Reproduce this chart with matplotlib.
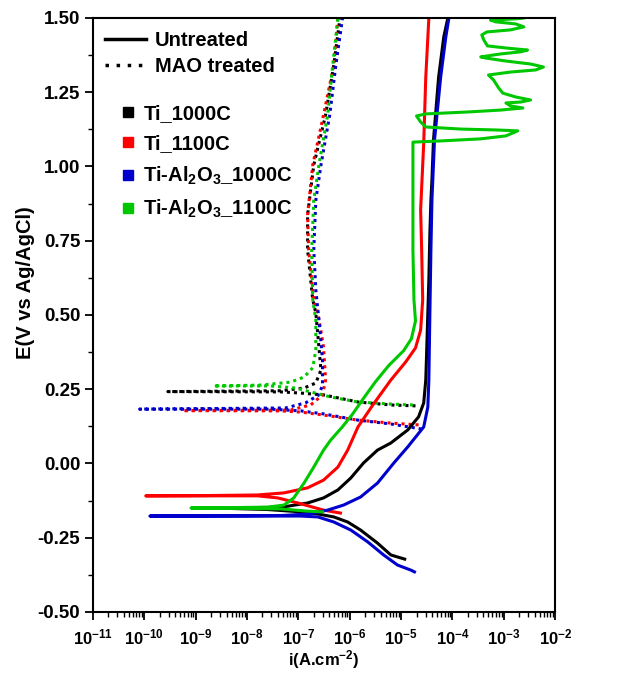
# Import libraries
import numpy as np
import matplotlib
matplotlib.use("Agg")
import matplotlib.pyplot as plt
from matplotlib.lines import Line2D
from matplotlib.ticker import LogLocator, MultipleLocator, FuncFormatter

# Fonts: bold Arial-like text everywhere
plt.rcParams["font.family"] = ["Liberation Sans", "DejaVu Sans"]
plt.rcParams["font.weight"] = "bold"
plt.rcParams["mathtext.fontset"] = "custom"
plt.rcParams["mathtext.rm"] = "Liberation Sans:bold"
plt.rcParams["mathtext.bf"] = "Liberation Sans:bold"
plt.rcParams["mathtext.default"] = "bf"

# Polarization data: log10 of current density, and potential (V)
# Each curve runs from the cathodic end, through the corrosion potential, up the anodic branch

# Untreated Ti_1000C
ti1000_logi = [-4.93, -5.20, -5.46, -5.79, -6.04, -6.31, -6.62, -6.95, -7.60, -8.40, -9.05,
               -8.40, -7.60, -7.28, -6.82, -6.51, -6.23, -5.98, -5.73, -5.46, -5.20, -4.87,
               -4.66, -4.56, -4.52, -4.50, -4.48, -4.46, -4.44, -4.42, -4.40, -4.37, -4.27,
               -4.17, -4.09]
ti1000_E = [-0.322, -0.308, -0.268, -0.224, -0.197, -0.180, -0.170, -0.163, -0.155, -0.151, -0.150,
            -0.149, -0.148, -0.146, -0.133, -0.116, -0.089, -0.049, 0.002, 0.045, 0.069, 0.113,
            0.157, 0.204, 0.281, 0.392, 0.507, 0.618, 0.776, 0.887, 0.955, 1.089, 1.301,
            1.436, 1.500]

# Untreated Ti_1100C
ti1100_logi = [-6.18, -6.51, -7.01, -7.40, -7.79, -8.80, -9.97,
               -8.80, -7.80, -7.28, -6.82, -6.51, -6.23, -6.04, -5.84, -5.55, -5.20, -4.91,
               -4.72, -4.62, -4.58, -4.60, -4.62, -4.56, -4.52, -4.46]
ti1100_E = [-0.167, -0.157, -0.133, -0.116, -0.109, -0.109, -0.109,
            -0.108, -0.106, -0.099, -0.082, -0.056, -0.012, 0.045, 0.123, 0.197, 0.281, 0.342,
            0.389, 0.449, 0.551, 0.719, 0.854, 1.079, 1.301, 1.500]

# Untreated Ti-Al2O3_1000C
tial1000_logi = [-4.74, -4.81, -5.07, -5.34, -5.65, -5.98, -6.31, -6.62, -6.95, -8.00, -9.89,
                 -8.00, -7.30, -6.80, -6.43, -6.12, -5.79, -5.46, -5.14, -4.87, -4.81, -4.56,
                 -4.48, -4.46, -4.44, -4.42, -4.40, -4.35, -4.23, -4.13, -4.07]
tial1000_E = [-0.365, -0.359, -0.342, -0.308, -0.264, -0.224, -0.197, -0.180, -0.177, -0.177, -0.177,
              -0.176, -0.175, -0.170, -0.157, -0.140, -0.113, -0.066, 0.002, 0.056, 0.069, 0.123,
              0.190, 0.281, 0.507, 0.719, 0.887, 1.089, 1.301, 1.436, 1.500]

# Untreated Ti-Al2O3_1100C (with the unstable passive region at the top)
tial1100_logi = [-6.53, -6.86, -7.34, -8.20, -9.09,
                 -8.50, -7.60, -7.28, -7.09, -6.89, -6.70, -6.51, -6.37, -6.15, -5.95, -5.75,
                 -5.50, -5.24, -4.95, -4.80, -4.72, -4.75, -4.77, -4.77,
                 -4.23, -3.45, -2.96, -2.73, -3.16, -3.84, -4.52, -4.62, -4.70, -4.52, -3.65,
                 -3.06, -2.63, -2.87, -2.96, -2.67, -2.48, -2.77, -3.02, -3.10, -3.20, -3.30,
                 -2.87, -2.38, -2.23, -2.48, -2.96, -3.35, -3.45, -3.06, -2.67, -2.54, -2.96,
                 -3.32, -3.39, -3.43, -3.33, -2.87, -2.61, -2.77, -3.16, -3.26, -2.77, -2.61]
tial1100_E = [-0.163, -0.160, -0.153, -0.151, -0.150,
              -0.149, -0.147, -0.140, -0.116, -0.066, -0.012, 0.045, 0.079, 0.122, 0.165, 0.215,
              0.275, 0.330, 0.380, 0.420, 0.480, 0.551, 0.719, 1.082,
              1.086, 1.093, 1.103, 1.120, 1.123, 1.126, 1.133, 1.150, 1.170, 1.177, 1.184,
              1.190, 1.197, 1.204, 1.214, 1.217, 1.224, 1.234, 1.247, 1.264, 1.291, 1.308,
              1.318, 1.325, 1.335, 1.345, 1.355, 1.365, 1.369, 1.379, 1.386, 1.392, 1.399,
              1.406, 1.426, 1.443, 1.453, 1.460, 1.470, 1.480, 1.487, 1.493, 1.497, 1.500]

# MAO treated Ti_1000C
mao_ti1000_logi = [-4.72, -5.20, -5.84, -6.51, -6.95, -7.34, -9.54,
                   -7.34, -6.89, -6.66, -6.56, -6.60, -6.66, -6.72, -6.82, -6.82, -6.70, -6.47,
                   -6.31, -6.19]
mao_ti1000_E = [0.194, 0.197, 0.207, 0.231, 0.237, 0.241, 0.242,
                0.245, 0.254, 0.271, 0.315, 0.392, 0.507, 0.551, 0.719, 0.837, 1.005, 1.173,
                1.342, 1.500]

# MAO treated Ti_1100C
mao_ti1100_logi = [-4.66, -5.20, -5.84, -6.51, -6.95, -7.34, -9.25,
                   -7.15, -6.76, -6.53, -6.47, -6.51, -6.62, -6.70, -6.80, -6.82, -6.72, -6.51,
                   -6.31, -6.23]
mao_ti1100_E = [0.130, 0.136, 0.146, 0.163, 0.173, 0.177, 0.178,
                0.180, 0.197, 0.231, 0.281, 0.392, 0.507, 0.551, 0.719, 0.837, 1.005, 1.173,
                1.342, 1.500]

# MAO treated Ti-Al2O3_1000C
mao_tial1000_logi = [-4.60, -5.20, -5.84, -6.51, -6.95, -7.54, -10.09,
                     -7.25, -6.86, -6.60, -6.53, -6.53, -6.58, -6.66, -6.70, -6.66, -6.56, -6.39,
                     -6.27, -6.14]
mao_tial1000_E = [0.116, 0.133, 0.146, 0.167, 0.177, 0.183, 0.183,
                  0.187, 0.204, 0.231, 0.264, 0.348, 0.449, 0.584, 0.719, 0.887, 1.005, 1.173,
                  1.342, 1.500]

# MAO treated Ti-Al2O3_1100C
mao_tial1100_logi = [-4.77, -5.20, -5.84, -6.37, -6.76, -7.05, -7.54, -8.65,
                     -7.73, -7.15, -6.89, -6.72, -6.66, -6.66, -6.72, -6.74, -6.70, -6.60, -6.43,
                     -6.33, -6.23]
mao_tial1100_E = [0.197, 0.200, 0.207, 0.224, 0.241, 0.254, 0.261, 0.261,
                  0.264, 0.274, 0.291, 0.322, 0.382, 0.483, 0.551, 0.719, 0.887, 1.005, 1.173,
                  1.342, 1.500]

# Sample names and colours
sample_names = ["Ti_1000C", "Ti_1100C", "Ti-Al$_2$O$_3$_1000C", "Ti-Al$_2$O$_3$_1100C"]
sample_colors = ["#000000", "#FF0000", "#0000CD", "#00C800"]

untreated = [(ti1000_logi, ti1000_E), (ti1100_logi, ti1100_E),
             (tial1000_logi, tial1000_E), (tial1100_logi, tial1100_E)]
treated = [(mao_ti1000_logi, mao_ti1000_E), (mao_ti1100_logi, mao_ti1100_E),
           (mao_tial1000_logi, mao_tial1000_E), (mao_tial1100_logi, mao_tial1100_E)]

dotted = (0, (1, 1.3))

# Create the figure
fig = plt.figure(figsize=(6.19, 6.76), dpi=100)
ax = fig.add_axes([0.150, 0.0947, 0.747, 0.8787])

# Plot the MAO treated curves (dotted) and untreated curves (solid)
for (logi, E), color in zip(treated, sample_colors):
    ax.plot(10 ** np.array(logi), E, color=color, lw=2.2, ls=dotted)
for (logi, E), color in zip(untreated, sample_colors):
    ax.plot(10 ** np.array(logi), E, color=color, lw=2.2, solid_joinstyle="round")

# Axes scales and limits
ax.set_xscale("log")
ax.set_xlim(1e-11, 1e-2)
ax.set_ylim(-0.5, 1.5)

# Ticks
ax.xaxis.set_major_locator(LogLocator(base=10, numticks=20))
ax.xaxis.set_minor_locator(LogLocator(base=10, subs=np.arange(2, 10), numticks=20))
ax.xaxis.set_major_formatter(FuncFormatter(lambda v, p: "$10^{%d}$" % round(np.log10(v))))
ax.yaxis.set_major_locator(MultipleLocator(0.25))
ax.yaxis.set_minor_locator(MultipleLocator(0.125))
ax.yaxis.set_major_formatter(FuncFormatter(lambda v, p: "%.2f" % v))
ax.tick_params(which="major", direction="out", length=6, width=1.3)
ax.tick_params(which="minor", direction="out", length=3.5, width=1.0)
ax.tick_params(axis="x", which="major", labelsize=12, pad=5)
ax.tick_params(axis="y", which="major", labelsize=13.5, pad=3)
for spine in ax.spines.values():
    spine.set_linewidth(1.5)

# Axis labels
ax.set_xlabel("i(A.cm$^{-2}$)", fontsize=12, fontweight="bold")
ax.xaxis.set_label_coords(0.5, -0.06)
ax.set_ylabel("E(V vs Ag/AgCl)", fontsize=14.5, fontweight="bold")
ax.yaxis.set_label_coords(-0.125, 0.555)

# Legend for line styles
style_handles = [Line2D([], [], color="k", lw=2.5),
                 Line2D([], [], color="k", lw=2.5, ls=(0, (1, 2.2)))]
leg1 = ax.legend(style_handles, ["Untreated", "MAO treated"], loc="upper left",
                 bbox_to_anchor=(-0.012, 1.008), frameon=False, handlelength=2.0,
                 handletextpad=0.45, labelspacing=0.35, prop={"size": 14.5, "weight": "bold"})
ax.add_artist(leg1)

# Legend for samples
color_handles = [Line2D([], [], color=c, marker="s", ls="none", markersize=6.5) for c in sample_colors]
ax.legend(color_handles, sample_names, loc="upper left", bbox_to_anchor=(0.02, 0.885),
          frameon=False, handlelength=0.8, handletextpad=0.35, labelspacing=0.55,
          prop={"size": 14.5, "weight": "bold"})

# Save the plot as a PNG file
plt.savefig("out.png", dpi=100)
